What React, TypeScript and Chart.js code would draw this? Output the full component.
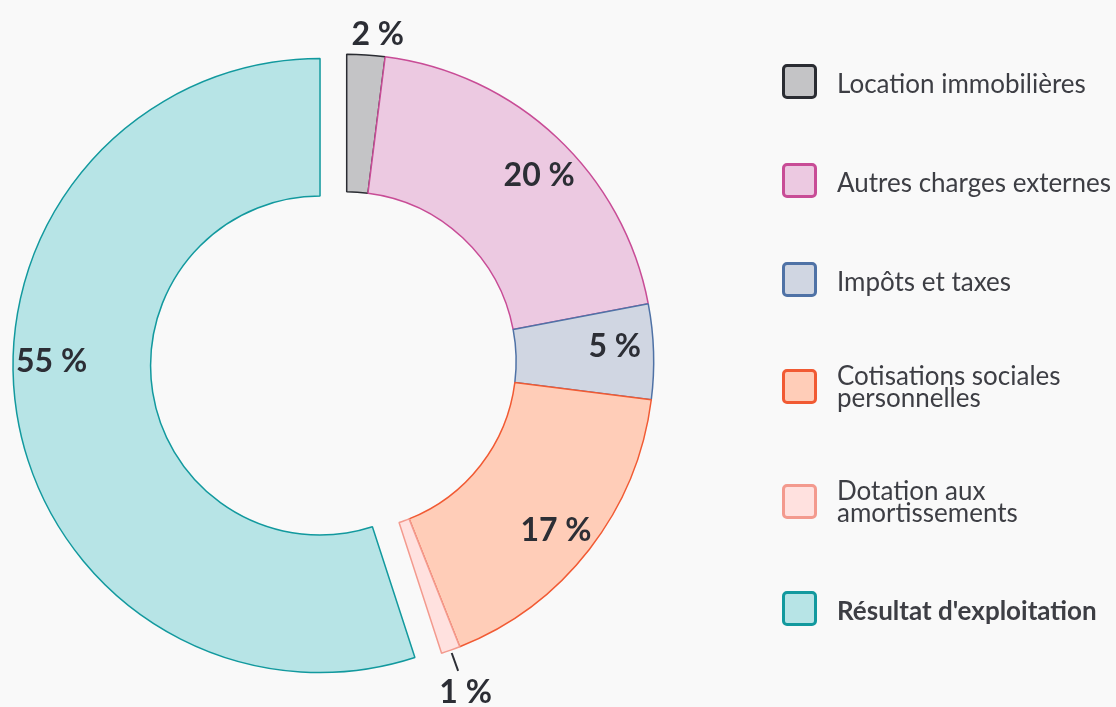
import React, { useEffect, useRef } from 'react';
import { Chart, registerables } from 'chart.js';

Chart.register(...registerables);

// ---- data ----
const categories = [
  'Location immobilières',
  'Autres charges externes',
  'Impôts et taxes',
  'Cotisations sociales personnelles',
  'Dotation aux amortissements',
  "Résultat d'exploitation",
];
const legendLines = [
  ['Location immobilières'],
  ['Autres charges externes'],
  ['Impôts et taxes'],
  ['Cotisations sociales', 'personnelles'],
  ['Dotation aux', 'amortissements'],
  ["Résultat d'exploitation"],
];
const values = [2, 20, 5, 17, 1, 55];

// ---- style ----
const fillColors = ['#c4c4c6', '#ecc9e1', '#d0d6e2', '#ffcdb8', '#ffe1df', '#b7e4e6'];
const borderColors = ['#2a2c32', '#c84c96', '#4f72a6', '#f15a33', '#f39a8e', '#12999e'];
const labelPlacement = ['outside', 'inside', 'inside', 'inside', 'outside', 'inside'];
const leaderLengths = [0, 0, 0, 0, 19, 0];
const labelAngleNudgeDeg = [1.8, 2.6, -1.5, 1, 0, 10];
const boldLegend = [false, false, false, false, false, true];
const explodedIndex = 5;
const explodeDistance = 27;
const BG = '#f9f9f9';
const LABEL_COLOR = '#2c2e35';
const LEGEND_COLOR = '#3d3e44';

const explodePlugin = {
  id: 'explodeSlice',
  afterDatasetUpdate(chart: any, args: any) {
    const el = args.meta.data[explodedIndex];
    if (!el) return;
    const ca = chart.chartArea;
    const cx = (ca.left + ca.right) / 2;
    const cy = (ca.top + ca.bottom) / 2;
    const mid = (el.startAngle + el.endAngle) / 2;
    el.x = cx + Math.cos(mid) * explodeDistance;
    el.y = cy + Math.sin(mid) * explodeDistance;
  },
};

const labelsPlugin = {
  id: 'pctLabels',
  afterDatasetsDraw(chart: any) {
    const ctx = chart.ctx as CanvasRenderingContext2D;
    const meta = chart.getDatasetMeta(0);
    const fontSize = 32;
    const capHalf = fontSize * 0.36;
    ctx.save();
    ctx.font = `bold ${fontSize}px Lato`;
    ctx.fillStyle = LABEL_COLOR;
    ctx.strokeStyle = LABEL_COLOR;
    ctx.textAlign = 'center';
    ctx.textBaseline = 'alphabetic';
    meta.data.forEach((el: any, i: number) => {
      const { x, y, startAngle, endAngle, innerRadius, outerRadius } = el;
      const baseMid = (startAngle + endAngle) / 2;
      const mid = baseMid + (labelAngleNudgeDeg[i] * Math.PI) / 180;
      const cos = Math.cos(mid);
      const sin = Math.sin(mid);
      const text = `${values[i]} %`;
      let r: number;
      if (labelPlacement[i] === 'inside') {
        r = innerRadius + 0.72 * (outerRadius - innerRadius);
      } else {
        const L = leaderLengths[i];
        if (L > 0) {
          const bc = Math.cos(baseMid);
          const bs = Math.sin(baseMid);
          ctx.lineWidth = 2;
          ctx.beginPath();
          ctx.moveTo(x + bc * (outerRadius + 3), y + bs * (outerRadius + 3));
          ctx.lineTo(x + bc * (outerRadius + 3 + L), y + bs * (outerRadius + 3 + L));
          ctx.stroke();
        }
        r = outerRadius + 3 + L + (L > 0 ? 10 : 7) + 12;
      }
      ctx.fillText(text, x + cos * r, y + sin * r + capHalf);
    });
    ctx.restore();
  },
};

export default function App() {
  const canvasRef = useRef<HTMLCanvasElement | null>(null);

  useEffect(() => {
    if (!canvasRef.current) return;
    const chart = new Chart(canvasRef.current, {
      type: 'doughnut',
      data: {
        labels: categories,
        datasets: [
          {
            data: values,
            backgroundColor: fillColors,
            borderColor: borderColors,
            borderWidth: 1.5,
            hoverBorderWidth: 1.5,
            hoverOffset: 0,
          },
        ],
      },
      options: {
        responsive: false,
        animation: false,
        cutout: '55.2%',
        events: [],
        layout: { padding: { left: 38.95, top: 53.55, right: 461.55, bottom: 37.95 } },
        plugins: { legend: { display: false }, tooltip: { enabled: false } },
      },
      plugins: [explodePlugin, labelsPlugin],
    } as any);
    return () => chart.destroy();
  }, []);

  const rowHeights = legendLines.map((l) => (l.length > 1 ? 51 : 35));

  return (
    <div
      style={{
        position: 'fixed',
        left: 0,
        top: 0,
        width: 1116,
        height: 707,
        background: BG,
        overflow: 'hidden',
      }}
    >
      <canvas ref={canvasRef} width={1116} height={707} style={{ position: 'absolute', left: 0, top: 0 }} />
      <div
        style={{
          position: 'absolute',
          left: 782,
          top: 63.5,
          display: 'flex',
          flexDirection: 'column',
          gap: 64,
          fontFamily: 'Lato, sans-serif',
          fontSize: 26,
          lineHeight: '22px',
          color: LEGEND_COLOR,
          whiteSpace: 'nowrap',
        }}
      >
        {legendLines.map((lines, i) => (
          <div key={i} style={{ display: 'flex', alignItems: 'center', height: rowHeights[i] }}>
            <div
              style={{
                width: 35,
                height: 35,
                boxSizing: 'border-box',
                border: `3px solid ${borderColors[i]}`,
                borderRadius: 5,
                background: fillColors[i],
                flex: '0 0 auto',
              }}
            />
            <div
              style={{
                marginLeft: 20,
                fontWeight: boldLegend[i] ? 700 : 400,
                position: 'relative',
                top: lines.length > 1 ? 0 : 2,
              }}
            >
              {lines.map((t, j) => (
                <div key={j}>{t}</div>
              ))}
            </div>
          </div>
        ))}
      </div>
    </div>
  );
}
